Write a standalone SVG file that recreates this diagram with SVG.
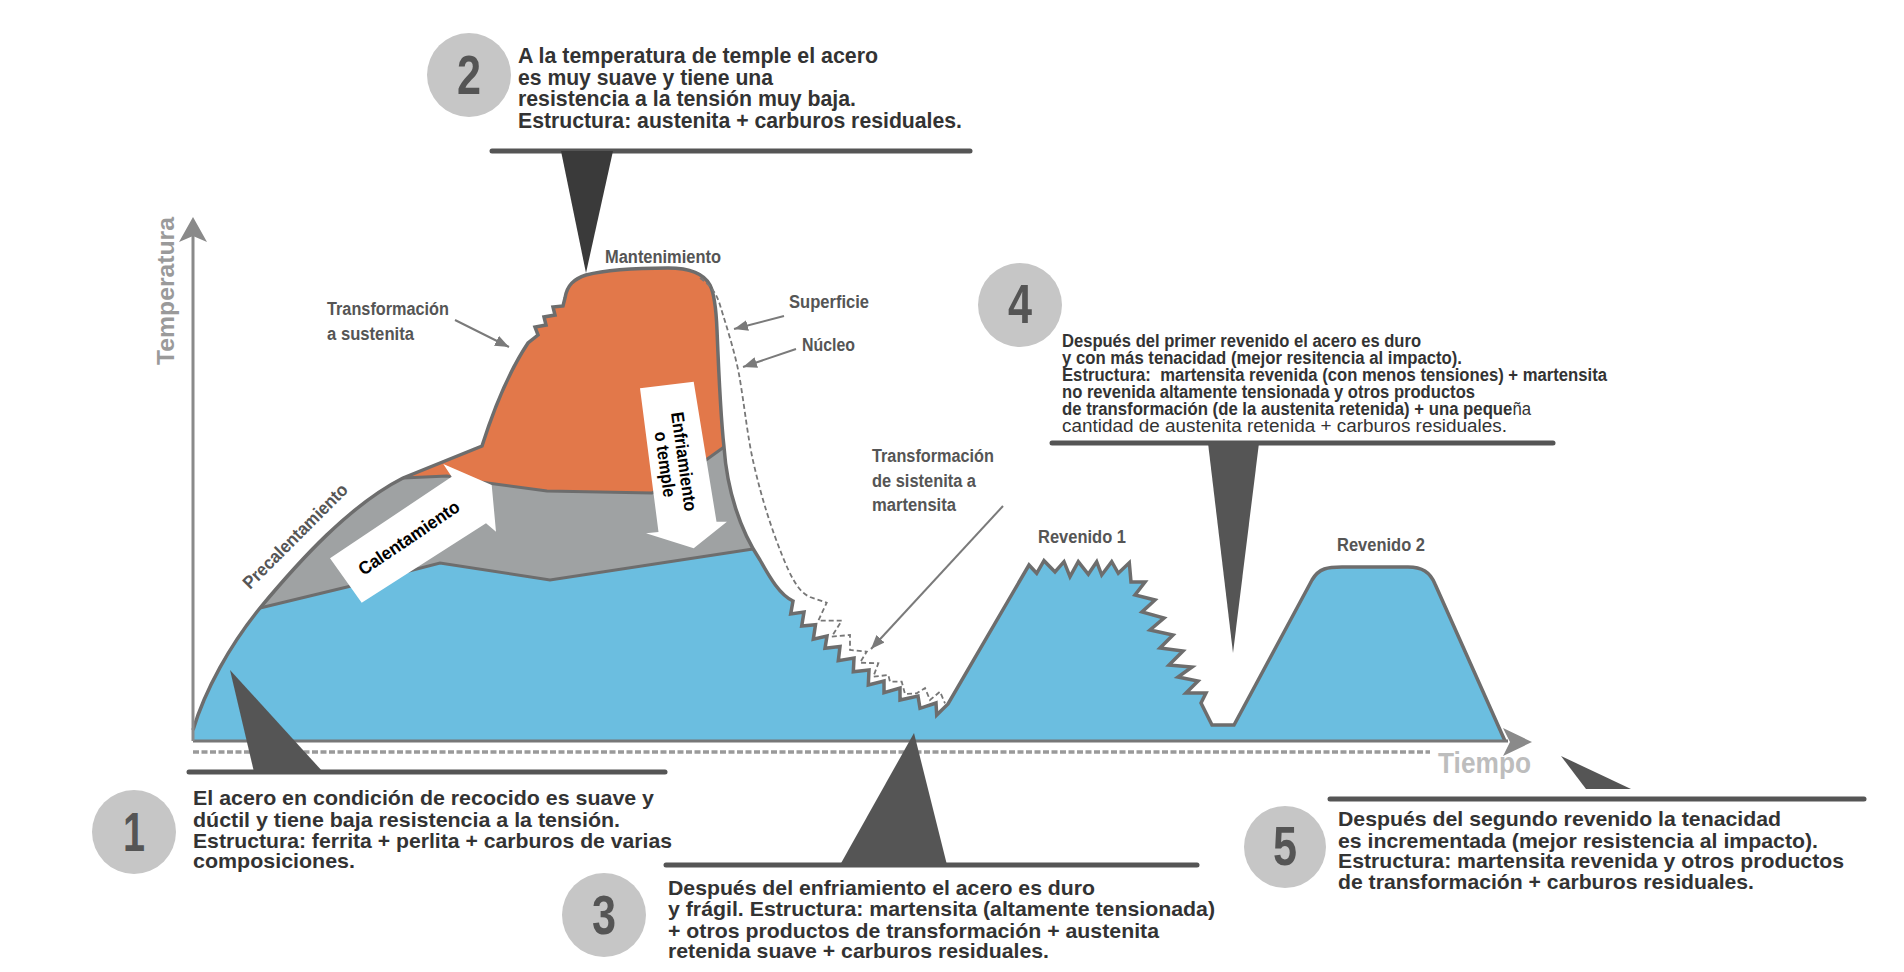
<svg xmlns="http://www.w3.org/2000/svg" width="1904" height="972" viewBox="0 0 1904 972">
<defs>
<style>
.bt{font-family:"Liberation Sans Narrow","Liberation Sans",Arial,sans-serif;font-weight:bold;fill:#333;}
.b21{font-size:21px;}
.b4{font-size:17.5px;}
.lb{font-family:"Liberation Sans Narrow","Liberation Sans",Arial,sans-serif;font-weight:bold;fill:#555;font-size:18px;}
.num{font-family:"Liberation Sans Narrow","Liberation Sans",Arial,sans-serif;font-weight:bold;fill:#555;font-size:56px;text-anchor:middle;}
.circ{fill:#c6c6c6;}
.rule{stroke:#555;stroke-width:5;stroke-linecap:round;fill:none;}
.ptr{fill:#555;}
.out{fill:none;stroke:#6d6d6d;stroke-width:3.5;stroke-linejoin:miter;}
.inner{fill:none;stroke:#6d6d6d;stroke-width:3;}
.larr{stroke:#7a7a7a;stroke-width:2;fill:none;}
.arrtxt{font-family:"Liberation Sans",Arial,sans-serif;font-weight:bold;fill:#000;font-size:18px;}
</style>
<marker id="ah" viewBox="0 0 10 10" refX="10" refY="5" markerWidth="14" markerHeight="11" markerUnits="userSpaceOnUse" orient="auto" preserveAspectRatio="none">
<path d="M0,0 L10,5 L0,10 Z" fill="#7a7a7a"/>
</marker>
</defs>
<rect x="0" y="0" width="1904" height="972" fill="#fff"/>

<g id="chart">
<path id="blue" fill="#6bbee0" d="M193,741 L193,730 C205,690 230,645 260,608 C300,560 350,505 403,478 L482,446 C495,405 510,370 528,343 L538,335 L535,327 L546,325 L544,317 L555,315 L553,307 L563,306 L565,298 C567,285 574,279 586,275 C605,270 640,268 668,268 C690,268 704,274 710,285 C714,293 716,305 717,330 C719,380 721,420 724,447 C727,490 740,530 760,560 C770,578 780,595 793,601 L790.7,614 L804,612 L801.7,626 L815.5,624.7 L813.3,639.3 L827,636 L825,648.3 L840,646.5 L838.3,660.7 L854,658 L853.3,671.7 L869,670 L868.3,685 L884,681 L884,692.7 L900,688 L900,700 L918,696 L920,708.3 L936,703 L936.7,715 L948,704 L1029,565 L1036.7,573.3 L1044,560.7 L1055,572 L1064,561.7 L1070,576.7 L1078.3,561.7 L1088.3,574.3 L1096.7,561.7 L1101.7,575 L1111.7,561.7 L1118.3,573.3 L1129.3,562.7 L1131,582 L1145,582 L1135,595 L1155,600 L1142,612 L1164,618 L1150,630 L1173,635 L1160,648 L1183,651 L1169,665 L1192,667 L1178,677 L1198,681 L1186,693 L1206,693 L1201,703 L1212,725 L1234,725 L1312,580 C1319,568 1328,567 1342,567 L1408,567 C1422,567 1430,572 1435,584 L1505,741 Z"/>
<path id="gray" fill="#9fa2a3" d="M260,608 C300,560 350,505 403,478 L447,476 L480,482 L547,491 L652,493 L706,460 L724,447 C727,490 740,525 753,549 L550,580 L440,563 L347,587 Z"/>
<path id="orange" fill="#e2784a" d="M403,478 L482,446 C495,405 510,370 528,343 L538,335 L535,327 L546,325 L544,317 L555,315 L553,307 L563,306 L565,298 C567,285 574,279 586,275 C605,270 640,268 668,268 C690,268 704,274 710,285 C714,293 716,305 717,330 C719,380 721,420 724,447 L706,460 L652,493 L547,491 L480,482 L447,476 Z"/>
<path class="inner" d="M260,608 L347,587 L440,563 L550,580 L753,549"/>
<path class="inner" d="M403,478 L447,476 L480,482 L547,491 L652,493 L706,460 L724,447"/>
<path class="out" d="M193,730 C205,690 230,645 260,608 C300,560 350,505 403,478 L482,446 C495,405 510,370 528,343 L538,335 L535,327 L546,325 L544,317 L555,315 L553,307 L563,306 L565,298 C567,285 574,279 586,275 C605,270 640,268 668,268 C690,268 704,274 710,285 C714,293 716,305 717,330 C719,380 721,420 724,447 C727,490 740,530 760,560 C770,578 780,595 793,601 L790.7,614 L804,612 L801.7,626 L815.5,624.7 L813.3,639.3 L827,636 L825,648.3 L840,646.5 L838.3,660.7 L854,658 L853.3,671.7 L869,670 L868.3,685 L884,681 L884,692.7 L900,688 L900,700 L918,696 L920,708.3 L936,703 L936.7,715 L948,704 L1029,565 L1036.7,573.3 L1044,560.7 L1055,572 L1064,561.7 L1070,576.7 L1078.3,561.7 L1088.3,574.3 L1096.7,561.7 L1101.7,575 L1111.7,561.7 L1118.3,573.3 L1129.3,562.7 L1131,582 L1145,582 L1135,595 L1155,600 L1142,612 L1164,618 L1150,630 L1173,635 L1160,648 L1183,651 L1169,665 L1192,667 L1178,677 L1198,681 L1186,693 L1206,693 L1201,703 L1212,725 L1234,725 L1312,580 C1319,568 1328,567 1342,567 L1408,567 C1422,567 1430,572 1435,584 L1505,741"/>
<path id="core" fill="none" stroke="#777" stroke-width="1.8" stroke-dasharray="5 3" d="M700,278 C710,285 716,292 720,305 C726,325 736,355 740,380 C745,410 748,440 754,465 C762,500 772,530 782,555 C790,575 798,592 810,597 L826.7,602.7 L818.3,620.7 L841.7,620.7 L831.7,636.7 L850,635 L850,650 L866.7,651.7 L860,662.7 L878.3,663.3 L873.3,676.7 L888.3,675 L890,681.7 L901.7,681.7 L905,694 L916.7,693.3 L925,688 L930,700 L940,691.7 L945,703.3"/>
<polygon id="calent-arrow" fill="#fff" points="330,558.3 451.7,476.7 443.3,464 491.7,485 496,531.7 486,523.3 361.7,602.7"/>
<text class="arrtxt" text-anchor="middle" transform="translate(409,538) rotate(-34)" y="6" textLength="118" lengthAdjust="spacingAndGlyphs">Calentamiento</text>
<polygon id="enfri-arrow" fill="#fff" points="640,388.3 693.7,381.7 716.5,521.7 726.9,521.7 693.7,548.3 646,533.3 658.5,532"/>
<g transform="translate(674,463) rotate(82)">
<text class="arrtxt" text-anchor="middle" y="-4" textLength="100" lengthAdjust="spacingAndGlyphs">Enfriamiento</text>
<text class="arrtxt" text-anchor="middle" y="15" textLength="66" lengthAdjust="spacingAndGlyphs">o temple</text>
</g>
</g>

<g id="axes">
<line x1="193" y1="752" x2="1430" y2="752" stroke="#9a9a9a" stroke-width="3.5" stroke-dasharray="6 2.5"/>
<line x1="193" y1="741" x2="1508" y2="741" stroke="#777" stroke-width="3"/>
<polygon points="1532,742 1503,728 1510,742 1503,756" fill="#8a8a8a"/>
<line x1="193" y1="741" x2="193" y2="236" stroke="#8a8a8a" stroke-width="3"/>
<polygon points="193,217 207,242 193,236 179,242" fill="#8a8a8a"/>
<text x="0" y="0" transform="translate(174,291) rotate(-90)" text-anchor="middle" font-family="Liberation Sans, Arial, sans-serif" font-weight="bold" font-size="24" fill="#9a9a9a" textLength="148" lengthAdjust="spacingAndGlyphs">Temperatura</text>
<text x="1438" y="773" font-family="Liberation Sans Narrow, Liberation Sans, Arial, sans-serif" font-weight="bold" font-size="30" fill="#bdbdbd" textLength="93" lengthAdjust="spacingAndGlyphs">Tiempo</text>
</g>

<g id="labels">
<text class="lb" x="605" y="263" textLength="116" lengthAdjust="spacingAndGlyphs">Mantenimiento</text>
<text class="lb" x="327" y="315" textLength="122" lengthAdjust="spacingAndGlyphs">Transformación</text>
<text class="lb" x="327" y="340" textLength="87" lengthAdjust="spacingAndGlyphs">a sustenita</text>
<text class="lb" x="789" y="308" textLength="80" lengthAdjust="spacingAndGlyphs">Superficie</text>
<text class="lb" x="802" y="351" textLength="53" lengthAdjust="spacingAndGlyphs">Núcleo</text>
<text class="lb" x="872" y="462" textLength="122" lengthAdjust="spacingAndGlyphs">Transformación</text>
<text class="lb" x="872" y="487" textLength="104" lengthAdjust="spacingAndGlyphs">de sistenita a</text>
<text class="lb" x="872" y="511" textLength="84" lengthAdjust="spacingAndGlyphs">martensita</text>
<text class="lb" x="1038" y="543" textLength="88" lengthAdjust="spacingAndGlyphs">Revenido 1</text>
<text class="lb" x="1337" y="551" textLength="88" lengthAdjust="spacingAndGlyphs">Revenido 2</text>
<text class="lb" font-size="17" transform="translate(250,590) rotate(-45)" fill="#666" textLength="140" lengthAdjust="spacingAndGlyphs">Precalentamiento</text>
</g>

<g id="connectors">
<line class="larr" x1="455" y1="320" x2="509" y2="347" marker-end="url(#ah)"/>
<line class="larr" x1="784" y1="316" x2="734" y2="329" marker-end="url(#ah)"/>
<line class="larr" x1="796" y1="349" x2="743" y2="367" marker-end="url(#ah)"/>
<line class="larr" x1="1003" y1="506" x2="871" y2="649" marker-end="url(#ah)"/>
</g>

<g id="block2">
<line class="rule" x1="492" y1="151" x2="970" y2="151"/>
<polygon points="561,151 613,151 586,273" fill="#3a3a3a"/>
<circle class="circ" cx="469" cy="75" r="42"/>
<text class="num" x="469" y="94" textLength="24" lengthAdjust="spacingAndGlyphs">2</text>
<text class="bt" font-size="22" x="518" y="63" textLength="360" lengthAdjust="spacingAndGlyphs">A la temperatura de temple el acero</text>
<text class="bt" font-size="22" x="518" y="85" textLength="255" lengthAdjust="spacingAndGlyphs">es muy suave y tiene una</text>
<text class="bt" font-size="22" x="518" y="106" textLength="338" lengthAdjust="spacingAndGlyphs">resistencia a la tensión muy baja.</text>
<text class="bt" font-size="22" x="518" y="128" textLength="444" lengthAdjust="spacingAndGlyphs">Estructura: austenita + carburos residuales.</text>
</g>

<g id="block4">
<line class="rule" x1="1052" y1="443" x2="1553" y2="443"/>
<polygon class="ptr" points="1208,443 1259,443 1233,653"/>
<circle class="circ" cx="1020" cy="305" r="42"/>
<text class="num" x="1020" y="323" textLength="24" lengthAdjust="spacingAndGlyphs">4</text>
<text class="bt b4" x="1062" y="347" textLength="359" lengthAdjust="spacingAndGlyphs">Después del primer revenido el acero es duro</text>
<text class="bt b4" x="1062" y="364" textLength="400" lengthAdjust="spacingAndGlyphs">y con más tenacidad (mejor resitencia al impacto).</text>
<text class="bt b4" x="1062" y="381" textLength="545" lengthAdjust="spacingAndGlyphs" xml:space="preserve">Estructura:  martensita revenida (con menos tensiones) + martensita</text>
<text class="bt b4" x="1062" y="398" textLength="413" lengthAdjust="spacingAndGlyphs">no revenida altamente tensionada y otros productos</text>
<text class="bt b4" x="1062" y="415" textLength="469" lengthAdjust="spacingAndGlyphs">de transformación (de la austenita retenida) + una peque<tspan font-weight="normal">ña</tspan></text>
<text class="bt b4" style="font-weight:normal" x="1062" y="432" textLength="445" lengthAdjust="spacingAndGlyphs">cantidad de austenita retenida + carburos residuales.</text>
</g>

<g id="block1">
<line class="rule" x1="189" y1="772" x2="665" y2="772"/>
<polygon class="ptr" points="230,670 254,772 323,772"/>
<circle class="circ" cx="134" cy="832" r="42"/>
<text class="num" x="134" y="851" textLength="22" lengthAdjust="spacingAndGlyphs">1</text>
<text class="bt b21" x="193" y="805" textLength="461" lengthAdjust="spacingAndGlyphs">El acero en condición de recocido es suave y</text>
<text class="bt b21" x="193" y="827" textLength="427" lengthAdjust="spacingAndGlyphs">dúctil y tiene baja resistencia a la tensión.</text>
<text class="bt b21" x="193" y="848" textLength="479" lengthAdjust="spacingAndGlyphs">Estructura: ferrita + perlita + carburos de varias</text>
<text class="bt b21" x="193" y="868" textLength="162" lengthAdjust="spacingAndGlyphs">composiciones.</text>
</g>

<g id="block3">
<line class="rule" x1="666" y1="865" x2="1197" y2="865"/>
<polygon class="ptr" points="914,733 840,865 947,865"/>
<circle class="circ" cx="604" cy="915" r="42"/>
<text class="num" x="604" y="934" textLength="24" lengthAdjust="spacingAndGlyphs">3</text>
<text class="bt b21" x="668" y="895" textLength="427" lengthAdjust="spacingAndGlyphs">Después del enfriamiento el acero es duro</text>
<text class="bt b21" x="668" y="916" textLength="547" lengthAdjust="spacingAndGlyphs">y frágil. Estructura: martensita (altamente tensionada)</text>
<text class="bt b21" x="668" y="938" textLength="491" lengthAdjust="spacingAndGlyphs">+ otros productos de transformación + austenita</text>
<text class="bt b21" x="668" y="958" textLength="381" lengthAdjust="spacingAndGlyphs">retenida suave + carburos residuales.</text>
</g>

<g id="block5">
<line class="rule" x1="1330" y1="799" x2="1864" y2="799"/>
<polygon class="ptr" points="1561,756 1586,789 1631,789"/>
<circle class="circ" cx="1285" cy="847" r="41"/>
<text class="num" x="1285" y="865" textLength="24" lengthAdjust="spacingAndGlyphs">5</text>
<text class="bt b21" x="1338" y="826" textLength="443" lengthAdjust="spacingAndGlyphs">Después del segundo revenido la tenacidad</text>
<text class="bt b21" x="1338" y="848" textLength="480" lengthAdjust="spacingAndGlyphs">es incrementada (mejor resistencia al impacto).</text>
<text class="bt b21" x="1338" y="868" textLength="506" lengthAdjust="spacingAndGlyphs">Estructura: martensita revenida y otros productos</text>
<text class="bt b21" x="1338" y="889" textLength="416" lengthAdjust="spacingAndGlyphs">de transformación + carburos residuales.</text>
</g>
</svg>
